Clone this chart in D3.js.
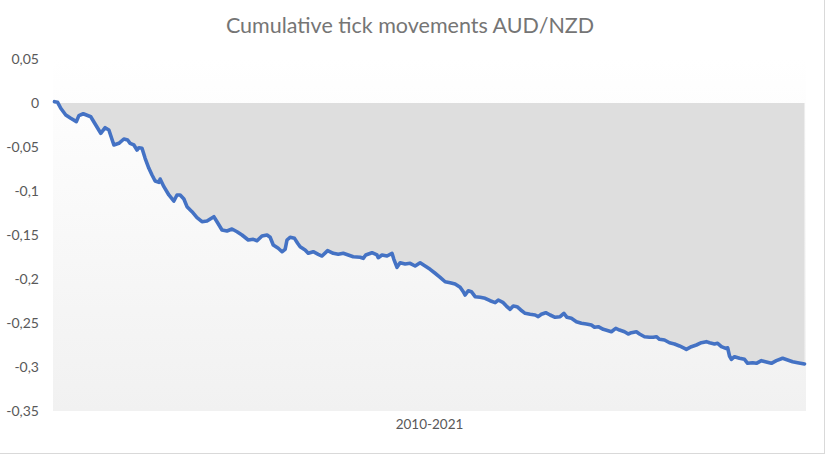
<!DOCTYPE html>
<html>
<head>
<meta charset="utf-8">
<script src="https://d3js.org/d3.v7.min.js"></script>
<style>
	body { margin: 0; background: #fff; }
	svg text { font-family: Lato, "Open Sans", sans-serif; }
</style>
</head>
<body>
<div id="chart"></div>
<script>
const chartTitle = 'Cumulative tick movements AUD/NZD';
const xLabel = '2010-2021';

// decimal year of each reading
const years = [
	2010.00, 2010.05, 2010.10, 2010.18, 2010.26, 2010.35, 2010.39, 2010.46, 2010.58, 2010.66,
	2010.74, 2010.81, 2010.87, 2010.95, 2011.03, 2011.11, 2011.17, 2011.21, 2011.27, 2011.32,
	2011.35, 2011.40, 2011.45, 2011.51, 2011.56, 2011.61, 2011.67, 2011.69, 2011.75, 2011.83,
	2011.91, 2011.96, 2012.01, 2012.07, 2012.12, 2012.20, 2012.28, 2012.36, 2012.44, 2012.55,
	2012.60, 2012.68, 2012.76, 2012.84, 2012.92, 2013.00, 2013.10, 2013.18, 2013.24, 2013.32,
	2013.40, 2013.45, 2013.50, 2013.58, 2013.64, 2013.69, 2013.72, 2013.77, 2013.84, 2013.89,
	2013.93, 2014.01, 2014.06, 2014.14, 2014.22, 2014.28, 2014.37, 2014.46, 2014.54, 2014.62,
	2014.70, 2014.78, 2014.89, 2014.94, 2014.98, 2015.08, 2015.16, 2015.18, 2015.24, 2015.32,
	2015.40, 2015.43, 2015.48, 2015.53, 2015.61, 2015.69, 2015.77, 2015.85, 2015.93, 2016.01,
	2016.09, 2016.17, 2016.25, 2016.33, 2016.41, 2016.49, 2016.54, 2016.57, 2016.62, 2016.67,
	2016.73, 2016.81, 2016.89, 2016.97, 2017.05, 2017.10, 2017.18, 2017.23, 2017.29, 2017.34,
	2017.40, 2017.46, 2017.53, 2017.61, 2017.69, 2017.74, 2017.79, 2017.86, 2017.93, 2018.01,
	2018.09, 2018.15, 2018.20, 2018.27, 2018.35, 2018.43, 2018.51, 2018.59, 2018.64, 2018.70,
	2018.78, 2018.86, 2018.91, 2018.98, 2019.04, 2019.12, 2019.18, 2019.23, 2019.31, 2019.36,
	2019.44, 2019.52, 2019.58, 2019.63, 2019.68, 2019.76, 2019.84, 2019.92, 2020.00, 2020.08,
	2020.11, 2020.19, 2020.27, 2020.35, 2020.43, 2020.48, 2020.56, 2020.61, 2020.67, 2020.74,
	2020.77, 2020.80, 2020.83, 2020.88, 2020.96, 2021.04, 2021.09, 2021.17, 2021.23, 2021.31,
	2021.39, 2021.47, 2021.55, 2021.65, 2021.73, 2021.81, 2021.89, 2022.00
];

// cumulative movement
const movements = [
	0.0015, 0.0008, -0.0060, -0.0136, -0.0174, -0.0212, -0.0144, -0.0122, -0.0156, -0.0250,
	-0.0344, -0.0281, -0.0307, -0.0477, -0.0458, -0.0409, -0.0420, -0.0458, -0.0477, -0.0534,
	-0.0508, -0.0515, -0.0628, -0.0742, -0.0818, -0.0886, -0.0901, -0.0864, -0.0951, -0.1045,
	-0.1114, -0.1045, -0.1045, -0.1091, -0.1178, -0.1235, -0.1303, -0.1349, -0.1341, -0.1292,
	-0.1349, -0.1443, -0.1455, -0.1432, -0.1463, -0.1500, -0.1557, -0.1549, -0.1565, -0.1511,
	-0.1500, -0.1526, -0.1614, -0.1651, -0.1690, -0.1663, -0.1557, -0.1526, -0.1538, -0.1594,
	-0.1633, -0.1670, -0.1708, -0.1690, -0.1719, -0.1739, -0.1678, -0.1708, -0.1719, -0.1708,
	-0.1727, -0.1747, -0.1753, -0.1765, -0.1727, -0.1701, -0.1727, -0.1758, -0.1727, -0.1739,
	-0.1708, -0.1776, -0.1867, -0.1815, -0.1830, -0.1822, -0.1852, -0.1815, -0.1852, -0.1890,
	-0.1935, -0.1981, -0.2031, -0.2042, -0.2057, -0.2094, -0.2144, -0.2182, -0.2133, -0.2144,
	-0.2201, -0.2208, -0.2219, -0.2247, -0.2269, -0.2239, -0.2269, -0.2307, -0.2344, -0.2307,
	-0.2315, -0.2352, -0.2390, -0.2401, -0.2409, -0.2428, -0.2401, -0.2383, -0.2409, -0.2435,
	-0.2428, -0.2390, -0.2435, -0.2447, -0.2485, -0.2503, -0.2511, -0.2523, -0.2549, -0.2542,
	-0.2572, -0.2588, -0.2599, -0.2561, -0.2580, -0.2599, -0.2625, -0.2610, -0.2599, -0.2625,
	-0.2656, -0.2662, -0.2662, -0.2656, -0.2685, -0.2693, -0.2724, -0.2739, -0.2761, -0.2788,
	-0.2799, -0.2769, -0.2750, -0.2724, -0.2712, -0.2724, -0.2739, -0.2731, -0.2769, -0.2788,
	-0.2781, -0.2875, -0.2913, -0.2883, -0.2901, -0.2913, -0.2958, -0.2951, -0.2958, -0.2928,
	-0.2943, -0.2958, -0.2928, -0.2901, -0.2920, -0.2940, -0.2951, -0.2966
];

const yTicks = [0.05, 0, -0.05, -0.1, -0.15, -0.2, -0.25, -0.3, -0.35];

const width = 826;
const height = 456;
const margin = { top: 59, right: 20, bottom: 45, left: 53 };

const locale = d3.formatLocale({ decimal: ',', thousands: '.', grouping: [3], currency: ['', ''], minus: '-' });
const fmt = locale.format('~g');

const data = years.map((y, i) => [y, movements[i]]);

const svg = d3.select('#chart').append('svg')
	.attr('width', width)
	.attr('height', height);

// chart border, only right and bottom edges show
svg.append('rect')
	.attr('x', -1).attr('y', -1)
	.attr('width', 825.5).attr('height', 454.5)
	.attr('fill', 'none')
	.attr('stroke', '#d9d9d9');

const plotW = width - margin.left - margin.right;
const plotH = 411 - margin.top;

const x = d3.scaleLinear()
	.domain([2010, 2022])
	.range([1.5, plotW - 1.5]);

const y = d3.scaleLinear()
	.domain([-0.35, 0.05])
	.range([plotH, 0]);

const defs = svg.append('defs');
const grad = defs.append('linearGradient')
	.attr('id', 'bg')
	.attr('x1', 0).attr('y1', 0).attr('x2', 0).attr('y2', 1);
grad.append('stop').attr('offset', '0%').attr('stop-color', '#ffffff');
grad.append('stop').attr('offset', '100%').attr('stop-color', '#f1f1f1');

const g = svg.append('g')
	.attr('transform', `translate(${margin.left}, ${margin.top})`);

g.append('rect')
	.attr('width', plotW)
	.attr('height', plotH)
	.attr('fill', 'url(#bg)');

// shaded band between zero and the series
const area = d3.area()
	.x(d => x(d[0]))
	.y0(y(0))
	.y1(d => y(d[1]));

g.append('path')
	.datum(data)
	.attr('d', area)
	.attr('fill', '#dedede');

g.append('path')
	.datum(data)
	.attr('d', d3.line().x(d => x(d[0])).y(d => y(d[1])))
	.attr('fill', 'none')
	.attr('stroke', '#4472c4')
	.attr('stroke-width', 3.6)
	.attr('stroke-linejoin', 'round')
	.attr('stroke-linecap', 'round');

const yAxis = d3.axisLeft(y)
	.tickValues(yTicks)
	.tickFormat(fmt)
	.tickSize(0)
	.tickPadding(14);

g.append('g')
	.attr('class', 'y-axis')
	.call(yAxis)
	.call(s => s.select('.domain').remove())
	.call(s => s.selectAll('text')
		.attr('fill', '#595959')
		.style('font-size', '14px')
		.style('font-family', 'Lato, "Open Sans", sans-serif'));

svg.append('text')
	.attr('x', margin.left + plotW / 2)
	.attr('y', 429)
	.attr('text-anchor', 'middle')
	.attr('fill', '#595959')
	.style('font-size', '13.5px')
	.text(xLabel);

svg.append('text')
	.attr('x', 410)
	.attr('y', 33)
	.attr('text-anchor', 'middle')
	.attr('fill', '#757575')
	.style('font-size', '21.5px')
	.text(chartTitle);
</script>
</body>
</html>
